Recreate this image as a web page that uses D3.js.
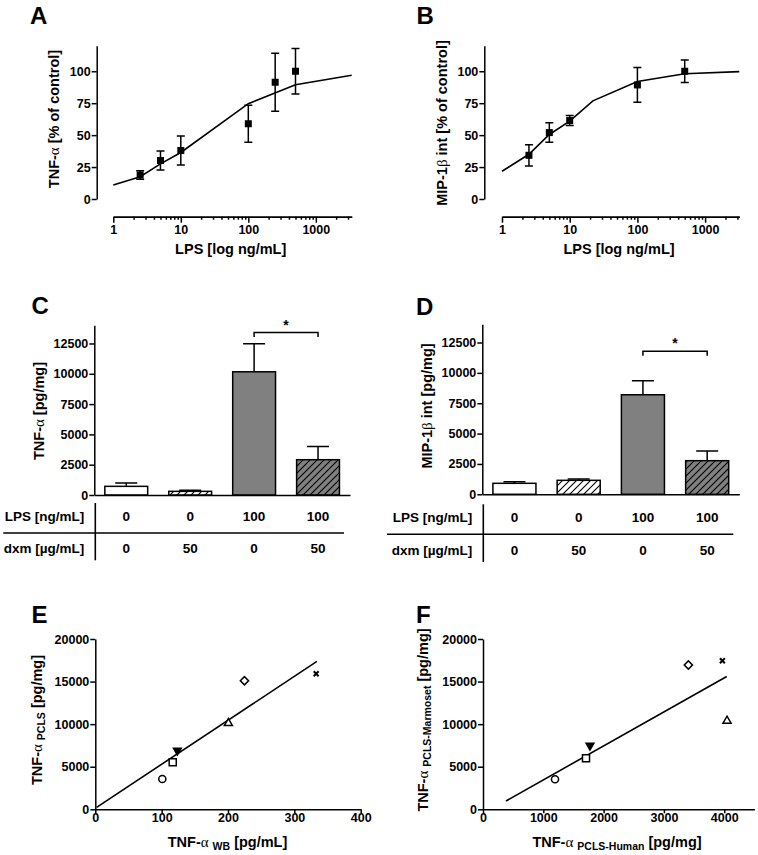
<!DOCTYPE html>
<html lang="en">
<head>
<meta charset="utf-8">
<title>LPS response: TNF-a and MIP-1b</title>
<script src="https://d3js.org/d3.v7.min.js"></script>
<style>
	body { margin: 0; background: #fff; }
	svg text { font-family: "Liberation Sans", Arial, sans-serif; font-weight: bold; fill: #000; }
	.axis path, .axis line { stroke: #000; stroke-width: 1.5px; }
	.axis text { font-size: 12.5px; font-weight: bold; }
	.title { font-size: 14.5px; }
	.letter { font-size: 24px; }
	.greek { font-weight: normal; font-family: "Liberation Serif", "DejaVu Serif", serif; font-size: 15px; }
</style>
</head>
<body>
<script>
// ---- data ----
// A: TNF-a vs LPS dose
var doseA = [2.5, 5, 10, 100, 250, 500];
var tnfPct = [18.8, 30.1, 38, 58.9, 91.4, 100];
var tnfSem = [3.4, 7.4, 11.3, 14.5, 22.7, 17.8];
var fitDoseA = [1, 2.5, 5, 10, 100, 500, 3400];
var fitTnf = [11, 17.5, 27.5, 36.4, 74.6, 89.5, 96.9];

// B: MIP-1b vs LPS dose
var doseB = [2.5, 5, 10, 100, 500];
var mipPct = [34.2, 52, 61.4, 89.3, 100];
var mipSem = [8.3, 7.6, 3.9, 13.6, 8.9];
var fitDoseB = [1, 2.5, 5, 10, 22, 100, 500, 3200];
var fitMip = [21.7, 35, 50.5, 61, 76.8, 92, 98, 99.7];

// C / D: bars
var groups = ["g1", "g2", "g3", "g4"];
var lpsRow = ["0", "0", "100", "100"];
var dxmRow = ["0", "50", "0", "50"];
var barFill = ["white", "white", "#808080", "#808080"];
var barHatch = [false, true, false, true];
var tnfBar = [714, 302, 10165, 2912];
var tnfBarErr = [275, 83, 2307, 1099];
var mipBar = [905, 1151, 8196, 2768];
var mipBarErr = [137, 110, 1151, 795];
var starC = 13400, starD = 11790;

// E / F: scatter
var symbolsEF = ["circle", "square", "down", "up", "diamond", "cross"];
var wbE = [101, 116.7, 123.7, 200.6, 224.8, 332.9];
var pclsE = [3565, 5529, 6894, 10118, 15094, 15918];
var fitXE = [2, 334], fitYE = [235, 17365];
var humanF = [1194, 1708, 1774, 4046, 3405, 3969];
var marmF = [3529, 6000, 7482, 10388, 16941, 17447];
var fitXF = [381, 4041], fitYF = [976, 15600];

var w = 758, h = 855;
var svg = d3.select("body").append("svg").attr("width", w).attr("height", h);

// hatch patterns
var defs = svg.append("defs");
[["hatchW", "white"], ["hatchG", "#808080"]].forEach(function(p) {
	var pat = defs.append("pattern").attr("id", p[0]).attr("patternUnits", "userSpaceOnUse")
		.attr("width", 7).attr("height", 7);
	pat.append("rect").attr("width", 7).attr("height", 7).attr("fill", p[1]);
	pat.append("path").attr("d", "M-1,1 l2,-2 M0,7 l7,-7 M6,8 l2,-2")
		.attr("stroke", "#000").attr("stroke-width", 1.1);
});

function letter(t, x, y) {
	svg.append("text").attr("class", "letter").attr("x", x).attr("y", y).text(t);
}

// parts: [text, kind] kind: "g" greek, "s" subscript
function label(x, y, rotate, parts) {
	var t = svg.append("text").attr("class", "title").attr("text-anchor", "middle")
		.attr("transform", "translate(" + x + "," + y + ")" + (rotate ? " rotate(-90)" : ""));
	var down = false;
	parts.forEach(function(p) {
		var s = t.append("tspan").text(p[0]);
		if (p[1] == "g") s.attr("class", "greek");
		if (p[1] == "s") { s.attr("font-size", "10.5px").attr("dy", 3); down = true; }
		else if (down) { s.attr("dy", -3); down = false; }
	});
}

function yAxis(scale, x, ticks) {
	svg.append("g").attr("class", "axis").attr("transform", "translate(" + x + ",0)")
		.call(d3.axisLeft(scale).tickValues(ticks).tickSize(5).tickSizeOuter(0).tickPadding(1).tickFormat(d3.format("d")));
}

function xAxis(scale, y, ticks, size, pad) {
	svg.append("g").attr("class", "axis").attr("transform", "translate(0," + y + ")")
		.call(d3.axisBottom(scale).tickValues(ticks).tickSize(size).tickSizeOuter(0).tickPadding(pad).tickFormat(d3.format("d")));
}

// ---------- A / B: dose response ----------
function dosePanel(xr, yAxisX, dose, val, sem, fitD, fitV, maxDose) {
	var x = d3.scaleLog().domain([1, maxDose]).range(xr);
	var y = d3.scaleLinear().domain([0, 120]).range([199, 45.7]);
	yAxis(y, yAxisX, [0, 25, 50, 75, 100]);
	var minor = [];
	[1, 10, 100, 1000].forEach(function(d) {
		for (var k = 2; k <= 9; k++) if (d * k <= maxDose) minor.push(d * k);
	});
	svg.append("g").attr("class", "axis").attr("transform", "translate(0,216.7)")
		.call(d3.axisBottom(x).tickValues(minor).tickSize(3).tickSizeOuter(0).tickFormat(""));
	xAxis(x, 216.7, [1, 10, 100, 1000], 6, 2);

	var line = d3.line().x(function(d) { return x(d[0]); }).y(function(d) { return y(d[1]); });
	svg.append("path").attr("d", line(d3.zip(fitD, fitV)))
		.attr("fill", "none").attr("stroke", "#000").attr("stroke-width", 1.6);

	var g = svg.append("g");
	dose.forEach(function(d, i) {
		var cx = x(d), top = y(val[i] + sem[i]), bot = y(val[i] - sem[i]);
		g.append("path").attr("d", "M" + cx + "," + top + "V" + bot + "M" + (cx - 4) + "," + top + "h8M" + (cx - 4) + "," + bot + "h8")
			.attr("stroke", "#000").attr("stroke-width", 1.5).attr("fill", "none");
		g.append("rect").attr("x", cx - 3.5).attr("y", y(val[i]) - 3.5).attr("width", 7).attr("height", 7).attr("fill", "#000");
	});
}

dosePanel([113.3, 351.7], 96.7, doseA, tnfPct, tnfSem, fitDoseA, fitTnf, 3400);
dosePanel([502, 739.3], 484.3, doseB, mipPct, mipSem, fitDoseB, fitMip, 3200);

letter("A", 30, 23.5);
letter("B", 416.5, 23.5);
label(58.5, 119, true, [["TNF-"], ["\u03b1", "g"], [" [% of control]"]]);
label(447, 123, true, [["MIP-1"], ["\u03b2", "g"], [" int [% of control]"]]);
label(230.7, 253.5, false, [["LPS [log ng/mL]"]]);
label(619, 253.5, false, [["LPS [log ng/mL]"]]);

// ---------- C / D: bars ----------
function barPanel(xr, yr, vals, errs, starVal, tableY, lineX0) {
	var x = d3.scaleBand().domain(groups).range(xr).paddingInner(0.33).paddingOuter(0.165);
	var y = d3.scaleLinear().domain([0, 14000]).range(yr);
	var bw = x.bandwidth();

	var g = svg.append("g");
	groups.forEach(function(k, i) {
		var cx = x(k) + bw / 2;
		g.append("path").attr("d", "M" + cx + "," + y(vals[i]) + "V" + y(vals[i] + errs[i]) + "M" + (cx - 11) + "," + y(vals[i] + errs[i]) + "h22")
			.attr("stroke", "#000").attr("stroke-width", 1.5).attr("fill", "none");
		g.append("rect").attr("x", x(k)).attr("y", y(vals[i]))
			.attr("width", bw).attr("height", y(0) - y(vals[i]))
			.attr("fill", barHatch[i] ? (barFill[i] == "white" ? "url(#hatchW)" : "url(#hatchG)") : barFill[i])
			.attr("stroke", "#000").attr("stroke-width", 1.5);
	});
	yAxis(y, xr[0], d3.range(0, 12501, 2500));
	xAxis(x, yr[0], [], 0, 0);

	// significance bracket
	var b1 = x(groups[2]) + bw / 2, b2 = x(groups[3]) + bw / 2, by = y(starVal);
	svg.append("path").attr("d", "M" + b1 + "," + (by + 4.5) + "V" + by + "H" + b2 + "V" + (by + 4.5))
		.attr("stroke", "#000").attr("stroke-width", 1.5).attr("fill", "none");
	svg.append("text").attr("x", (b1 + b2) / 2).attr("y", by - 3).attr("text-anchor", "middle")
		.attr("font-size", "14px").text("*");

	// table below
	var labX = xr[0] - 10;
	var rows = [["LPS [ng/mL]", lpsRow], ["dxm [\u00b5g/mL]", dxmRow]];
	rows.forEach(function(r, j) {
		var ty = tableY[j] + 5;
		svg.append("text").attr("x", labX).attr("y", ty).attr("text-anchor", "end")
			.attr("font-size", "13.5px").text(r[0]);
		groups.forEach(function(k, i) {
			svg.append("text").attr("x", x(k) + bw / 2).attr("y", ty).attr("text-anchor", "middle")
				.attr("font-size", "13.5px").text(r[1][i]);
		});
	});
	svg.append("path").attr("d", "M" + (xr[0] + 1) + "," + (tableY[0] - 13) + "V" + (tableY[1] + 12))
		.attr("stroke", "#000").attr("stroke-width", 1.6);
	svg.append("path").attr("d", "M" + lineX0 + "," + (tableY[0] + 17) + "H" + (xr[1] - 6))
		.attr("stroke", "#000").attr("stroke-width", 1.6);
	return x;
}

barPanel([94.3, 350], [495, 325.3], tnfBar, tnfBarErr, starC, [516, 548.3], 3.3);
barPanel([482.3, 739.3], [494.3, 324.3], mipBar, mipBarErr, starD, [517.3, 550], 387);

letter("C", 31.5, 313.5);
letter("D", 416, 315);
label(43.5, 411, true, [["TNF-"], ["\u03b1", "g"], [" [pg/mg]"]]);
label(431.5, 406, true, [["MIP-1"], ["\u03b2", "g"], [" int [pg/mg]"]]);

// ---------- E / F: correlations ----------
var crossType = {
	draw: function(ctx, size) {
		var r = Math.sqrt(size) / 2;
		ctx.moveTo(-r, -r); ctx.lineTo(r, r);
		ctx.moveTo(-r, r); ctx.lineTo(r, -r);
	}
};

function marker(g, kind, cx, cy) {
	var sym = d3.symbol(), rot = 0, fill = "white";
	if (kind == "circle") sym.type(d3.symbolCircle).size(40);
	if (kind == "square") sym.type(d3.symbolSquare).size(50);
	if (kind == "down") { sym.type(d3.symbolTriangle).size(26); rot = 180; fill = "#000"; }
	if (kind == "up") sym.type(d3.symbolTriangle).size(28);
	if (kind == "diamond") { sym.type(d3.symbolSquare).size(34); rot = 45; }
	if (kind == "cross") { sym.type(crossType).size(24); fill = "none"; }
	g.append("path").attr("d", sym())
		.attr("transform", "translate(" + cx + "," + cy + ") rotate(" + rot + ")")
		.attr("fill", fill).attr("stroke", "#000").attr("stroke-width", kind == "cross" ? 2 : 1.5);
}

function scatterPanel(xDom, xr, xTicks, xs, ys, fx, fy) {
	var x = d3.scaleLinear().domain(xDom).range(xr);
	var y = d3.scaleLinear().domain([0, 20000]).range([809.3, 639]);
	yAxis(y, xr[0], d3.range(0, 20001, 5000));
	xAxis(x, 809.3, xTicks, 4, 0);
	svg.append("path").attr("d", d3.line()(d3.zip(fx.map(x), fy.map(y))))
		.attr("stroke", "#000").attr("stroke-width", 1.6).attr("fill", "none");
	var g = svg.append("g");
	xs.forEach(function(d, i) { marker(g, symbolsEF[i], x(d), y(ys[i])); });
}

scatterPanel([0, 400], [95.3, 360.7], [0, 100, 200, 300, 400], wbE, pclsE, fitXE, fitYE);
scatterPanel([0, 4500], [483, 754.4], [0, 1000, 2000, 3000, 4000], humanF, marmF, fitXF, fitYF);

letter("E", 31.5, 622.5);
letter("F", 416, 622.5);
label(42, 720, true, [["TNF-"], ["\u03b1", "g"], [" "], ["PCLS", "s"], [" [pg/mg]"]]);
label(428, 720, true, [["TNF-"], ["\u03b1", "g"], [" "], ["PCLS-Marmoset", "s"], [" [pg/mg]"]]);
label(227.5, 847, false, [["TNF-"], ["\u03b1", "g"], [" "], ["WB", "s"], [" [pg/mL]"]]);
label(617, 847, false, [["TNF-"], ["\u03b1", "g"], [" "], ["PCLS-Human", "s"], [" [pg/mg]"]]);
</script>
</body>
</html>
